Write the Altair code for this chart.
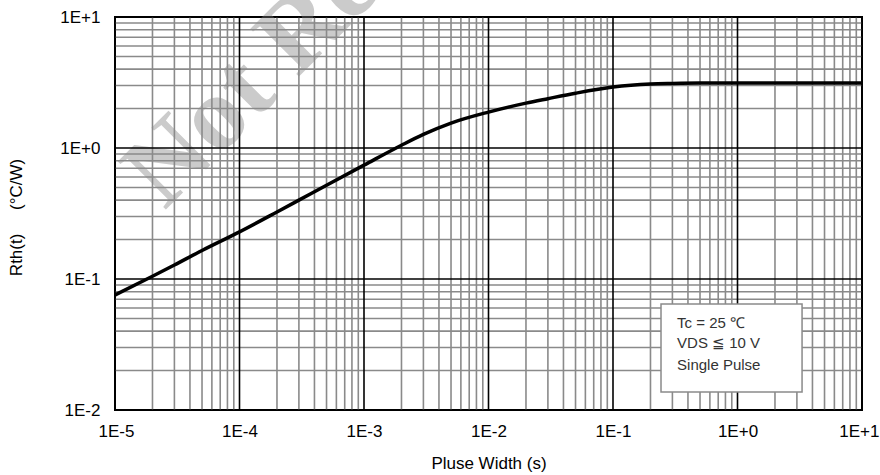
import altair as alt
import pandas as pd

# Curve values
pulse_width = [1e-5, 2e-5, 3e-5, 5e-5, 1e-4, 2e-4, 3e-4, 5e-4, 1e-3, 2e-3, 3e-3,
               5e-3, 1e-2, 2e-2, 3e-2, 5e-2, 1e-1, 2e-1, 3e-1, 5e-1, 1.0, 10.0]
rth = [0.0755, 0.105, 0.128, 0.165, 0.229, 0.325, 0.40, 0.52, 0.74, 1.05, 1.27,
       1.55, 1.88, 2.20, 2.38, 2.62, 2.92, 3.08, 3.11, 3.13, 3.13, 3.14]

x_decades = [1e-5, 1e-4, 1e-3, 1e-2, 1e-1, 1.0, 10.0]
y_decades = [1e-2, 1e-1, 1.0, 10.0]
minor_mult = [2, 3, 4, 5, 6, 7, 8, 9]
x_minor = [m * d for d in x_decades[:-1] for m in minor_mult]
y_minor = [m * d for d in y_decades[:-1] for m in minor_mult]

note_lines = ["Tc = 25 \u2103", "VDS \u2266 10 V", "Single Pulse"]
note_y = [0.0461, 0.0324, 0.0221]
note_x = 0.327
box_x = [0.243, 3.30]
box_y = [0.0137, 0.0644]

watermark = "Not Recommended"
wm_x, wm_y = 2.5e-5, 0.33

xscale = alt.Scale(type="log", domain=[1e-5, 10], nice=False)
yscale = alt.Scale(type="log", domain=[1e-2, 10], nice=False)
lab = "'1E' + (log(datum.value)/LN10 >= -0.01 ? '+' : '') + round(log(datum.value)/LN10)"

xaxis = alt.Axis(values=x_decades, labelExpr=lab, title="Pluse Width (s)", grid=False, ticks=False,
                 domain=False, labelPadding=13, labelFlush=True, labelFlushOffset=17,
                 titleY=53, titleBaseline="middle")
yaxis = alt.Axis(values=y_decades, labelExpr=lab, title="Rth(t)\u00a0\u00a0\u00a0\u00a0\u00a0(\u00b0C/W)", grid=False,
                 ticks=False, domain=False, labelPadding=15, labelFlush=False, titleX=-99, titleY=200,
                 titleBaseline="middle", titleAlign="center", titleAngle=270)


def X(f="x"):
    return alt.X(f + ":Q", scale=xscale, axis=xaxis)


def Y(f="y"):
    return alt.Y(f + ":Q", scale=yscale, axis=yaxis)


curve = pd.DataFrame({"x": pulse_width, "y": rth})

wm = alt.Chart(pd.DataFrame({"x": [wm_x], "y": [wm_y], "t": [watermark]})).mark_text(
    font="Liberation Serif", fontSize=104, fontWeight="bold", color="#cbcbcb", angle=315,
    align="left", baseline="alphabetic"
).encode(x=X(), y=Y(), text="t:N")

xmin_r = alt.Chart(pd.DataFrame({"x": x_minor})).mark_rule(color="#8a8a8a", strokeWidth=1.6).encode(x=X())
ymin_r = alt.Chart(pd.DataFrame({"y": y_minor})).mark_rule(color="#8a8a8a", strokeWidth=1.6).encode(y=Y())
xmaj_r = alt.Chart(pd.DataFrame({"x": x_decades})).mark_rule(color="black", strokeWidth=1.6).encode(x=X())
ymaj_r = alt.Chart(pd.DataFrame({"y": y_decades})).mark_rule(color="black", strokeWidth=1.6).encode(y=Y())

line = alt.Chart(curve).mark_line(color="black", strokeWidth=3.5, interpolate="monotone").encode(
    x=X(), y=Y())

box = alt.Chart(pd.DataFrame({"x": [box_x[0]], "x2": [box_x[1]], "y": [box_y[0]], "y2": [box_y[1]]})).mark_rect(
    fill="white", stroke="#8a8a8a", strokeWidth=1.5
).encode(x=X(), x2="x2:Q", y=Y(), y2="y2:Q")

notes = alt.Chart(pd.DataFrame({"x": [note_x] * 3, "y": note_y, "t": note_lines})).mark_text(
    font="Liberation Sans", fontSize=15, color="#333333", align="left", baseline="middle"
).encode(x=X(), y=Y(), text="t:N")

chart = alt.layer(wm, xmin_r, ymin_r, xmaj_r, ymaj_r, line, box, notes).properties(
    width=747, height=393,
    autosize=alt.AutoSizeParams(type="none"),
    padding={"left": 115, "top": 17, "right": 18, "bottom": 65},
    background="white",
).configure_view(stroke="black", strokeWidth=2).configure_axis(
    labelFont="Liberation Sans", labelFontSize=17, labelColor="black",
    titleFont="Liberation Sans", titleFontSize=17, titleFontWeight="normal", titleColor="black"
)

chart.save("out.html", embed_options={"renderer": "svg", "actions": False})
